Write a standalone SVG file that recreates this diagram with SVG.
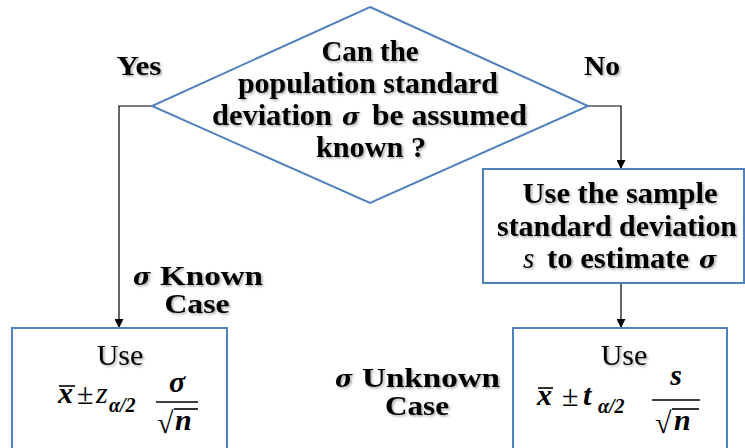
<svg xmlns="http://www.w3.org/2000/svg" width="745" height="448" viewBox="0 0 745 448">
<defs>
<filter id="sh" x="-10%" y="-20%" width="130%" height="150%"><feDropShadow dx="1.5" dy="1.5" stdDeviation="1" flood-color="#000" flood-opacity="0.35"/></filter>
<marker id="ah" viewBox="0 0 10 10" refX="10" refY="5" markerWidth="9" markerHeight="9" markerUnits="userSpaceOnUse" orient="auto"><path d="M0,0 L10,5 L0,10 z" fill="#000"/></marker>
</defs>
<style>
.shape{fill:#fff;stroke:#4F81BD;stroke-width:2}
.conn{fill:none;stroke:#000;stroke-width:1.2;marker-end:url(#ah)}
.t{font-family:"Liberation Serif",serif;font-weight:bold;fill:#000;text-anchor:middle}
.ts{font-family:"Liberation Serif",serif;font-weight:bold;fill:#000}
.sig{font-family:"DejaVu Serif","Liberation Serif",serif;font-weight:bold;font-style:italic;fill:#000}
.use{font-family:"Liberation Serif",serif;font-size:30px;fill:#000;text-anchor:middle}
.m{font-family:"Liberation Serif",serif;font-size:30px;fill:#000}
.mbi{font-family:"Liberation Serif",serif;font-size:30px;font-weight:bold;font-style:italic;fill:#000}
.sub{font-family:"Liberation Serif",serif;font-size:20px;font-weight:bold;font-style:italic;fill:#000}
.bar{stroke:#000;stroke-width:1.6}
.sh{filter:url(#sh)}
</style>
<rect width="745" height="448" fill="#fff"/>
<g id="connectors">
<polyline class="conn" points="152,106 119,106 119,328"/>
<polyline class="conn" points="588,106 621,106 621,169"/>
<line class="conn" x1="621" y1="283" x2="621" y2="328"/>
</g>
<g id="decision">
<polygon class="shape" points="370,7 588,106 370,203 152,106"/>
<g class="sh">
<text class="t" x="370" y="61" font-size="29" textLength="97" lengthAdjust="spacingAndGlyphs">Can the</text>
<text class="t" x="368" y="93" font-size="29" textLength="260" lengthAdjust="spacingAndGlyphs">population standard</text>
<text class="ts" x="212" y="125" font-size="29" textLength="120" lengthAdjust="spacingAndGlyphs">deviation</text>
<text class="sig" x="342" y="125" font-size="24">σ</text>
<text class="ts" x="372" y="125" font-size="29" textLength="155" lengthAdjust="spacingAndGlyphs">be assumed</text>
<text class="t" x="371" y="157" font-size="29" textLength="110" lengthAdjust="spacingAndGlyphs">known ?</text>
</g>
</g>
<g id="label-yes" class="sh"><text class="t" x="139" y="75" font-size="27" textLength="45" lengthAdjust="spacingAndGlyphs">Yes</text></g>
<g id="label-no" class="sh"><text class="t" x="602" y="75" font-size="27" textLength="36" lengthAdjust="spacingAndGlyphs">No</text></g>
<g id="sample-sd">
<rect class="shape" x="483" y="169" width="261" height="114"/>
<g class="sh">
<text class="t" x="620" y="203" font-size="29" textLength="195" lengthAdjust="spacingAndGlyphs">Use the sample</text>
<text class="t" x="617" y="236" font-size="29" textLength="240" lengthAdjust="spacingAndGlyphs">standard deviation</text>
<text x="523" y="268" font-size="29" style="font-family:'Liberation Serif',serif;font-style:italic;font-weight:normal;fill:#000">s</text>
<text class="ts" x="547" y="268" font-size="29" textLength="142" lengthAdjust="spacingAndGlyphs">to estimate</text>
<text class="sig" x="699" y="268" font-size="24">σ</text>
</g>
</g>
<g id="known-case" class="sh">
<text class="sig" x="133" y="285" font-size="24">σ</text>
<text class="ts" x="160" y="285" font-size="28" textLength="103" lengthAdjust="spacingAndGlyphs">Known</text>
<text class="t" x="197" y="313" font-size="28" textLength="65" lengthAdjust="spacingAndGlyphs">Case</text>
</g>
<g id="unknown-case" class="sh">
<text class="sig" x="335" y="387" font-size="24">σ</text>
<text class="ts" x="362" y="387" font-size="28" textLength="138" lengthAdjust="spacingAndGlyphs">Unknown</text>
<text class="t" x="417" y="415" font-size="28" textLength="64" lengthAdjust="spacingAndGlyphs">Case</text>
</g>
<g id="known-formula">
<rect class="shape" x="12" y="328" width="215" height="140"/>
<text class="use sh" x="120" y="365">Use</text>
<text class="mbi" x="58" y="403">x</text>
<line class="bar" x1="59" y1="386" x2="75" y2="386"/>
<text class="m" x="77" y="404" font-size="34">±</text>
<text class="m" x="96" y="403" font-style="italic">z</text>
<text class="sub" x="109" y="412">α/2</text>
<text class="mbi" x="177" y="392" text-anchor="middle">σ</text>
<line class="bar" x1="156" y1="402" x2="198" y2="402"/>
<text class="m" x="157" y="433" font-size="34">√</text>
<line class="bar" x1="174" y1="409" x2="198" y2="409"/>
<text class="mbi" x="175" y="430">n</text>
</g>
<g id="unknown-formula">
<rect class="shape" x="513" y="328" width="214" height="140"/>
<text class="use sh" x="624" y="365">Use</text>
<text class="mbi" x="537" y="405">x</text>
<line class="bar" x1="538" y1="388" x2="553" y2="388"/>
<text class="m" x="562" y="406" font-size="34">±</text>
<text class="mbi" x="583" y="405">t</text>
<text class="sub" x="598" y="413">α/2</text>
<text class="mbi" x="676" y="385" text-anchor="middle">s</text>
<line class="bar" x1="652" y1="400" x2="700" y2="400"/>
<text class="m" x="655" y="433" font-size="34">√</text>
<line class="bar" x1="672" y1="409" x2="699" y2="409"/>
<text class="mbi" x="674" y="430">n</text>
</g>
</svg>
